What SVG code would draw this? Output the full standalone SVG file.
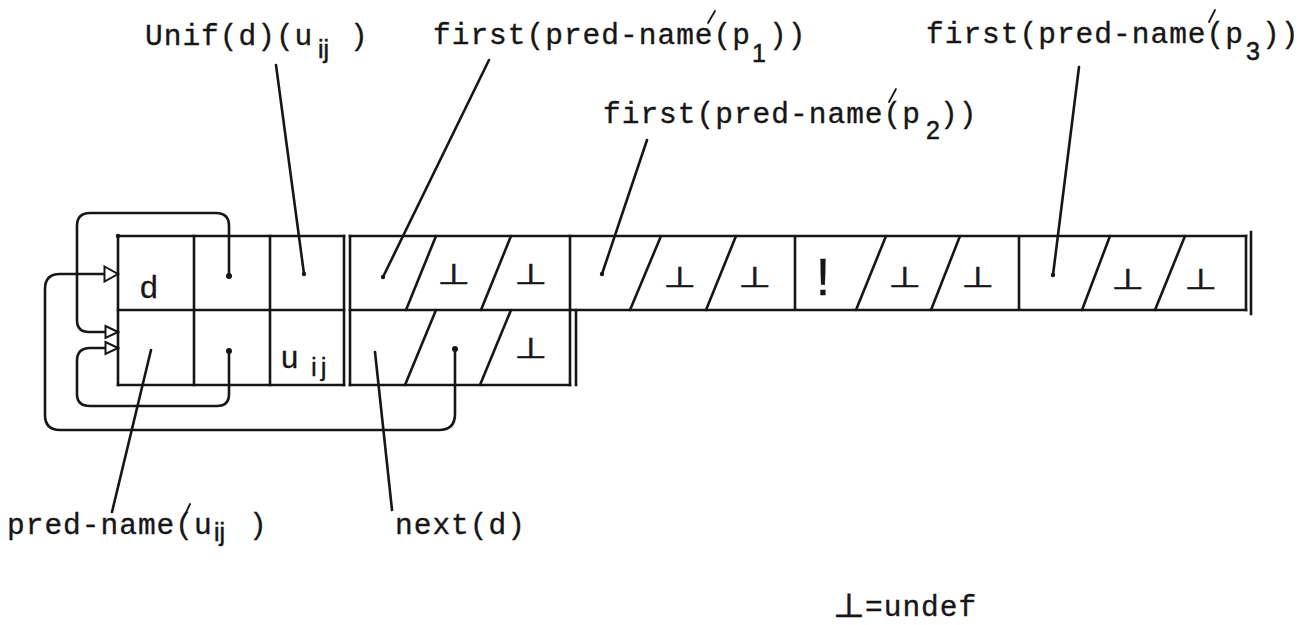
<svg xmlns="http://www.w3.org/2000/svg" width="1310" height="625" viewBox="0 0 1310 625">
  <defs>
    <style>
      .grid{stroke:#161616;stroke-width:2.6;fill:none;stroke-linecap:square}
      .ln{stroke:#161616;stroke-width:2.6;fill:none;stroke-linecap:round;stroke-linejoin:round}
      .tick{stroke:#161616;stroke-width:1.8;fill:none;stroke-linecap:round}
      .tw{font-family:"Liberation Mono",monospace;font-size:29.5px;letter-spacing:1px;fill:#161616;stroke:#161616;stroke-width:0.35}
      .sub{font-family:"Liberation Sans",sans-serif;font-size:25px;letter-spacing:0;fill:#161616;stroke:#161616;stroke-width:0.5}
      .hand{font-family:"Liberation Sans",sans-serif;fill:#161616;stroke:#161616;stroke-width:0.3}
      .bot{font-family:"DejaVu Sans",sans-serif;font-size:30px;fill:#161616;stroke:#161616;stroke-width:0.6;text-anchor:middle}
      .dot{fill:#161616}
    </style>
    <marker id="open-arrow" markerUnits="userSpaceOnUse" markerWidth="18" markerHeight="18" refX="15" refY="9" orient="auto">
      <path d="M1.5,1.5 L15,9 L1.5,16.5 Z" fill="#fff" stroke="#161616" stroke-width="2"/>
    </marker>
    <marker id="open-arrow-sm" markerUnits="userSpaceOnUse" markerWidth="16" markerHeight="16" refX="14" refY="8" orient="auto">
      <path d="M1.5,2 L14,8 L1.5,14 Z" fill="#fff" stroke="#161616" stroke-width="2"/>
    </marker>
  </defs>

  <rect width="1310" height="625" fill="#fff"/>

  <!-- unification record: d / pred-name / Unif cells, two rows -->
  <g id="unif-record">
    <path class="grid" d="M118,236 H344 M118,310 H344 M118,385 H344"/>
    <path class="grid" d="M118,236 V385 M194,236 V385 M270,236 V385 M344,236 V385"/>
    <circle class="dot" cx="118" cy="236" r="2.2"/>
    <text class="hand" x="140" y="298" font-size="32">d</text>
    <text class="hand" x="281" y="368" font-size="31">u<tspan x="311" y="376" font-size="26" letter-spacing="4">ij</tspan></text>
    <circle class="dot" cx="229" cy="276" r="3"/>
    <circle class="dot" cx="229" cy="351" r="3"/>
  </g>

  <!-- predicate-name row: first groups for p1, p2, p3 -->
  <g id="pred-row">
    <path class="grid" d="M350,236 H1246 M350,310 H1246"/>
    <path class="grid" d="M350,236 V385 M570,236 V385 M795,238 V308 M1019,238 V308 M1246,236 V310 M1251,232 V314"/>
    <path class="ln" d="M406,310 L436,236 M481,310 L511,236 M630,310 L661,236 M706,310 L736,236 M856,310 L886,236 M931,310 L960,236 M1082,310 L1110,236 M1155,310 L1185,236"/>
    <text class="bot" transform="translate(454 284) scale(1.25 0.95)">⊥</text>
    <text class="bot" transform="translate(531 284) scale(1.25 0.95)">⊥</text>
    <text class="bot" transform="translate(680 287) scale(1.25 0.95)">⊥</text>
    <text class="bot" transform="translate(755 287) scale(1.25 0.95)">⊥</text>
    <text class="hand" x="823" y="295" font-size="52" text-anchor="middle">!</text>
    <text class="bot" transform="translate(905 287) scale(1.25 0.95)">⊥</text>
    <text class="bot" transform="translate(978 287) scale(1.25 0.95)">⊥</text>
    <text class="bot" transform="translate(1128 289) scale(1.25 0.95)">⊥</text>
    <text class="bot" transform="translate(1201 289) scale(1.25 0.95)">⊥</text>
  </g>

  <!-- next row below the first predicate group -->
  <g id="next-row">
    <path class="grid" d="M350,385 H570 M576,310 V385"/>
    <path class="ln" d="M405,385 L436,310 M480,385 L511,310"/>
    <circle class="dot" cx="455" cy="349" r="3"/>
    <text class="bot" transform="translate(531 358) scale(1.25 0.95)">⊥</text>
  </g>

  <!-- pointers and label leaders -->
  <g id="connectors">
    <path class="ln" d="M455,349 V414 Q455,430 439,430 H60 Q45,430 45,415 V289 Q45,274 60,274 H118" marker-end="url(#open-arrow)"/>
    <path class="ln" d="M229,276 V226 Q229,213 216,213 H90 Q77,213 77,226 V320 Q77,332 89,332 H118" marker-end="url(#open-arrow-sm)"/>
    <path class="ln" d="M229,351 V394 Q229,406 217,406 H90 Q77,406 77,394 V361 Q77,348 90,348 H118" marker-end="url(#open-arrow-sm)"/>

    <path class="ln" d="M276,65 L304,274"/>
    <path class="ln" d="M489,60 L383,277"/>
    <path class="ln" d="M647,140 L602,274"/>
    <path class="ln" d="M1079,67 L1053,275"/>
    <path class="ln" d="M151,350 L112,512"/>
    <path class="ln" d="M375,352 L392,510"/>
    <circle class="dot" cx="304" cy="274" r="2.2"/>
    <circle class="dot" cx="383" cy="277" r="2.2"/>
    <circle class="dot" cx="602" cy="274" r="2.2"/>
    <circle class="dot" cx="1053" cy="275" r="2.2"/>
  </g>

  <g id="label-unif">
    <text class="tw" x="145" y="45">Unif(d)(u<tspan class="sub" x="318" y="58" letter-spacing="4">ij</tspan><tspan x="350" y="45">)</tspan></text>
  </g>
  <g id="label-first-p1">
    <text class="tw" x="433" y="44">first(pred-name(p<tspan class="sub" x="752" y="62">1</tspan><tspan x="769" y="44">))</tspan></text>
    <path class="tick" d="M708,23 L715,11"/>
  </g>
  <g id="label-first-p2">
    <text class="tw" x="603" y="123">first(pred-name(p<tspan class="sub" x="926" y="139">2</tspan><tspan x="940" y="123">))</tspan></text>
    <path class="tick" d="M889,102 L896,89"/>
  </g>
  <g id="label-first-p3">
    <text class="tw" x="926" y="43">first(pred-name(p<tspan class="sub" x="1246" y="60">3</tspan><tspan x="1262" y="43">))</tspan></text>
    <path class="tick" d="M1209,22 L1215,10"/>
  </g>
  <g id="label-pred-name">
    <text class="tw" x="7" y="534">pred-name(u<tspan class="sub" x="214" y="541" letter-spacing="4">ij</tspan><tspan x="249" y="534">)</tspan></text>
    <path class="tick" d="M184,517 L190,504"/>
  </g>
  <g id="label-next">
    <text class="tw" x="395" y="534">next(d)</text>
  </g>
  <g id="legend">
    <text class="bot" transform="translate(849 617) scale(1.2 1.1)" font-size="36">⊥</text>
    <text class="tw" x="865" y="616">=undef</text>
  </g>
</svg>
